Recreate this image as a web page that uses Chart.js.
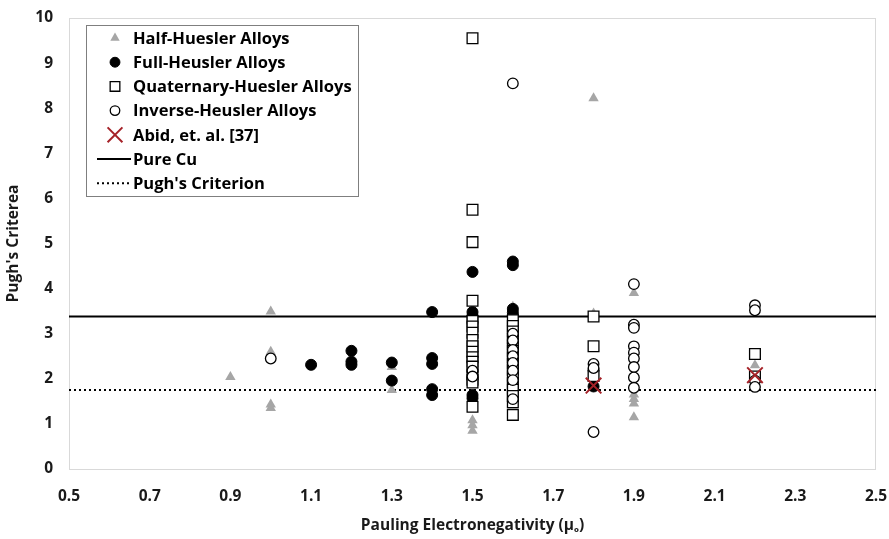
<!DOCTYPE html>
<html>
<head>
<meta charset="utf-8">
<script src="https://cdn.jsdelivr.net/npm/chart.js@4/dist/chart.umd.min.js"></script>
<style>
    body { margin: 0; background: #fff; }
    #wrap { width: 889px; height: 539px; }
</style>
</head>
<body>
<div id="wrap"><canvas id="chart" width="889" height="539"></canvas></div>
<script>
// Points, [electronegativity, Pugh's ratio]
const halfHeusler = [
    [0.9, 2.04], [1.0, 3.49], [1.0, 2.6], [1.0, 1.43], [1.0, 1.35],
    [1.3, 2.26], [1.3, 1.75], [1.5, 1.08], [1.5, 0.97], [1.5, 0.85],
    [1.6, 3.6], [1.8, 8.22], [1.8, 3.45], [1.9, 3.9], [1.9, 1.65],
    [1.9, 1.55], [1.9, 1.45], [1.9, 1.15], [2.2, 2.3]
];
const fullHeusler = [
    [1.1, 2.31], [1.2, 2.62], [1.2, 2.38], [1.2, 2.31], [1.3, 2.36], [1.3, 1.96],
    [1.4, 3.48], [1.4, 2.46], [1.4, 2.33], [1.4, 1.77], [1.4, 1.64],
    [1.5, 4.37], [1.5, 3.48], [1.5, 3.4], [1.5, 3.33], [1.5, 3.25], [1.5, 1.64], [1.5, 1.57],
    [1.6, 4.6], [1.6, 4.52], [1.6, 3.55], [1.6, 3.47], [1.6, 3.4],
    [1.8, 2.2], [1.8, 1.83]
];
const quaternaryHeusler = [
    [1.5, 9.55], [1.5, 5.75], [1.5, 5.03], [1.5, 3.73], [1.5, 3.28], [1.5, 3.16],
    [1.5, 3.02], [1.5, 2.86], [1.5, 2.72], [1.5, 2.6], [1.5, 2.48], [1.5, 2.38],
    [1.5, 2.27], [1.5, 2.1], [1.5, 1.98], [1.5, 1.92], [1.5, 1.38],
    [1.6, 3.3], [1.6, 3.17], [1.6, 3.05], [1.6, 2.9], [1.6, 2.76], [1.6, 2.62],
    [1.6, 2.48], [1.6, 2.34], [1.6, 2.2], [1.6, 2.05], [1.6, 1.9], [1.6, 1.76],
    [1.6, 1.62], [1.6, 1.48], [1.6, 1.2],
    [1.8, 3.38], [1.8, 2.72], [1.8, 2.06],
    [2.2, 2.55], [2.2, 2.05]
];
const inverseHeusler = [
    [1.0, 2.45], [1.5, 2.18], [1.5, 2.05],
    [1.6, 8.55], [1.6, 3.0], [1.6, 2.85], [1.6, 2.64], [1.6, 2.5], [1.6, 2.35],
    [1.6, 2.18], [1.6, 1.97], [1.6, 1.55],
    [1.8, 2.33], [1.8, 2.24], [1.8, 0.82],
    [1.9, 4.1], [1.9, 3.2], [1.9, 3.13], [1.9, 2.72], [1.9, 2.58], [1.9, 2.45],
    [1.9, 2.26], [1.9, 2.03], [1.9, 1.8],
    [2.2, 3.63], [2.2, 3.52], [2.2, 1.96], [2.2, 1.82]
];
const abidEtAl = [[1.8, 1.85], [2.2, 2.08]];

const pureCu = 3.38;
const pughCriterion = 1.75;

const xTicks = [0.5, 0.7, 0.9, 1.1, 1.3, 1.5, 1.7, 1.9, 2.1, 2.3, 2.5];
const yTicks = [0, 1, 2, 3, 4, 5, 6, 7, 8, 9, 10];

const legendNames = [
    'Half-Huesler Alloys', 'Full-Heusler Alloys', 'Quaternary-Huesler Alloys',
    'Inverse-Heusler Alloys', 'Abid, et. al. [37]', 'Pure Cu', "Pugh's Criterion"
];

const toPoints = (arr) => arr.map((p) => ({ x: p[0], y: p[1] }));
const hLine = (v) => [{ x: xTicks[0], y: v }, { x: xTicks[xTicks.length - 1], y: v }];

const FONT = '"Open Sans", Lato, sans-serif';

const datasets = [
    {
        label: legendNames[0], data: toPoints(halfHeusler), order: 6,
        pointStyle: 'triangle', pointRadius: 6, backgroundColor: '#a6a6a6', borderColor: '#a6a6a6', borderWidth: 0
    },
    {
        label: legendNames[1], data: toPoints(fullHeusler), order: 5,
        pointStyle: 'circle', pointRadius: 5.5, backgroundColor: '#000', borderColor: '#000', borderWidth: 1
    },
    {
        label: legendNames[2], data: toPoints(quaternaryHeusler), order: 4,
        pointStyle: 'rect', pointRadius: 7.6, backgroundColor: '#fff', borderColor: '#000', borderWidth: 1.3
    },
    {
        label: legendNames[3], data: toPoints(inverseHeusler), order: 3,
        pointStyle: 'circle', pointRadius: 5.3, backgroundColor: '#fff', borderColor: '#000', borderWidth: 1.3
    },
    {
        label: legendNames[4], data: toPoints(abidEtAl), order: 2,
        pointStyle: 'crossRot', pointRadius: 11, backgroundColor: '#a52228', borderColor: '#a52228', borderWidth: 2
    },
    {
        label: legendNames[5], data: hLine(pureCu), order: 7, showLine: true,
        pointRadius: 0, borderColor: '#000', borderWidth: 2
    },
    {
        label: legendNames[6], data: hLine(pughCriterion), order: 8, showLine: true,
        pointRadius: 0, borderColor: '#000', borderWidth: 2, borderDash: [2, 3]
    }
];

// Light grey frame round the plot area and the boxed legend
const framePlugin = {
    id: 'frame',
    beforeDatasetsDraw (chart) {
        const { ctx, chartArea: a } = chart;
        ctx.save();
        ctx.strokeStyle = '#d9d9d9';
        ctx.lineWidth = 1;
        ctx.strokeRect(a.left + 0.5, a.top + 0.5, a.right - a.left - 1, a.bottom - a.top);
        ctx.restore();
    },
    afterDraw (chart) {
        const ctx = chart.ctx;
        const box = { x: 86, y: 25, w: 272, h: 171 };
        ctx.save();
        ctx.fillStyle = '#fff';
        ctx.fillRect(box.x, box.y, box.w, box.h);
        ctx.strokeStyle = '#7f7f7f';
        ctx.lineWidth = 1;
        ctx.strokeRect(box.x + 0.5, box.y + 0.5, box.w, box.h);

        ctx.font = 'bold 16.5px ' + FONT;
        ctx.textBaseline = 'middle';
        ctx.fillStyle = '#000';
        chart.data.datasets.forEach((ds, i) => {
            const y = 38 + i * 24.2;
            if (ds.showLine) {
                ctx.beginPath();
                ctx.strokeStyle = ds.borderColor;
                ctx.lineWidth = ds.borderWidth;
                ctx.setLineDash(ds.borderDash || []);
                ctx.moveTo(97, y);
                ctx.lineTo(131, y);
                ctx.stroke();
                ctx.setLineDash([]);
            } else {
                ctx.fillStyle = ds.backgroundColor;
                ctx.strokeStyle = ds.borderColor;
                ctx.lineWidth = ds.borderWidth;
                const r = ds.pointStyle === 'crossRot' ? 10.5 : ds.pointRadius * 0.9;
                Chart.helpers.drawPoint(ctx, { pointStyle: ds.pointStyle, radius: r, borderWidth: ds.borderWidth }, 115, y);
            }
            ctx.fillStyle = '#000';
            ctx.fillText(ds.label, 133, y + 1);
        });
        ctx.restore();
    }
};

new Chart(document.getElementById('chart'), {
    type: 'scatter',
    data: { datasets: datasets },
    options: {
        responsive: false,
        animation: false,
        layout: { padding: { top: 18, right: 11, left: 0, bottom: 0 } },
        plugins: {
            legend: { display: false },
            tooltip: { enabled: false }
        },
        scales: {
            x: {
                type: 'linear',
                min: 0.5,
                max: 2.5,
                afterBuildTicks: (s) => { s.ticks = xTicks.map((v) => ({ value: v })); },
                afterFit: (s) => { s.height = 70; s.paddingLeft = 0; s.paddingRight = 0; },
                grid: { display: false, drawTicks: false },
                border: { display: false },
                ticks: {
                    padding: 18,
                    color: '#1a1a1a',
                    font: { family: FONT, size: 15.5, weight: 'bold' },
                    callback: (v) => v.toFixed(1)
                },
                title: {
                    display: true,
                    text: 'Pauling Electronegativity (\u03bc\u2092)',
                    color: '#1a1a1a',
                    font: { family: FONT, size: 15.5, weight: 'bold' },
                    padding: { top: 0 }
                }
            },
            y: {
                min: 0,
                max: 10,
                afterBuildTicks: (s) => { s.ticks = yTicks.map((v) => ({ value: v })); },
                afterFit: (s) => { s.width = 69; s.paddingTop = 0; s.paddingBottom = 0; },
                grid: { display: false, drawTicks: false },
                border: { display: false },
                ticks: {
                    padding: 16,
                    color: '#1a1a1a',
                    font: { family: FONT, size: 15.5, weight: 'bold' }
                },
                title: {
                    display: true,
                    text: "Pugh's Criterea",
                    color: '#1a1a1a',
                    font: { family: FONT, size: 15.5, weight: 'bold' },
                    padding: { bottom: 0 }
                }
            }
        }
    },
    plugins: [framePlugin]
});
</script>
</body>
</html>
